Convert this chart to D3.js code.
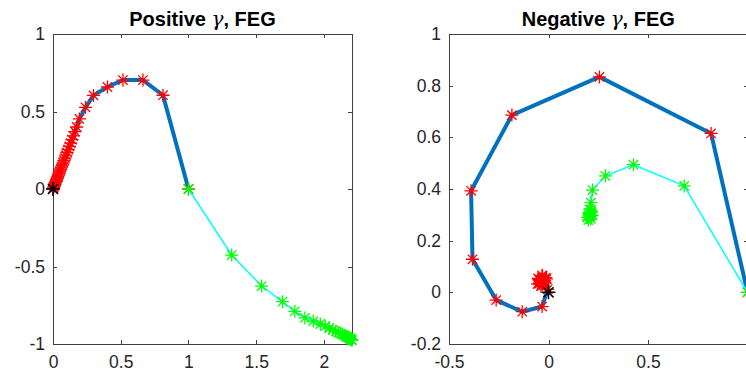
<!DOCTYPE html>
<html>
<head>
<meta charset="utf-8">
<script src="https://cdn.jsdelivr.net/npm/d3@7"></script>
<style>
  html, body { margin: 0; padding: 0; background: #fff; }
  svg { display: block; }
</style>
</head>
<body>
<svg id="chart" width="746" height="375"></svg>
<script>
// ---------- DATA ----------
// Left panel: Positive gamma
const posTitle = "Positive";
const posRedX = [1, 0.812, 0.664, 0.516, 0.402, 0.299, 0.24, 0.195, 0.175, 0.162, 0.150, 0.140, 0.130, 0.121, 0.112, 0.104, 0.096, 0.089, 0.082, 0.075, 0.069, 0.063, 0.057, 0.051, 0.046, 0.041, 0.036, 0.031, 0.026, 0.022, 0.018, 0.014, 0.010, 0.006, 0.003, 0.001];
const posRedY = [0, 0.605, 0.703, 0.703, 0.658, 0.604, 0.527, 0.452, 0.40, 0.37, 0.343, 0.318, 0.296, 0.275, 0.255, 0.236, 0.218, 0.201, 0.185, 0.169, 0.155, 0.141, 0.128, 0.115, 0.103, 0.091, 0.080, 0.069, 0.058, 0.048, 0.039, 0.030, 0.021, 0.013, 0.006, 0.002];
const posGreenX = [1, 1.319, 1.54, 1.694, 1.785, 1.859, 1.921, 1.973, 2.01, 2.04, 2.065, 2.087, 2.106, 2.123, 2.138, 2.151, 2.162, 2.172, 2.181, 2.189, 2.195, 2.200, 2.204, 2.207];
const posGreenY = [0, -0.426, -0.626, -0.727, -0.789, -0.832, -0.852, -0.871, -0.885, -0.898, -0.909, -0.918, -0.926, -0.933, -0.939, -0.945, -0.950, -0.955, -0.959, -0.963, -0.967, -0.970, -0.973, -0.976];
const posXTicks = [0, 0.5, 1, 1.5, 2];
const posXTickLabels = ["0", "0.5", "1", "1.5", "2"];
const posYTicks = [-1, -0.5, 0, 0.5, 1];
const posYTickLabels = ["-1", "-0.5", "0", "0.5", "1"];
const posXDomain = [0, 2.207];
const posYDomain = [-1, 1];

// Right panel: Negative gamma
const negTitle = "Negative";
const negRedX = [1, 0.817, 0.256, -0.184, -0.389, -0.382, -0.263, -0.132, -0.032, -0.004, -0.010, -0.032, -0.052, -0.055, -0.038, -0.016, -0.014, -0.030, -0.048, -0.046, -0.030, -0.020, -0.033, -0.042, -0.033, -0.026, -0.033];
const negRedY = [0, 0.615, 0.834, 0.686, 0.393, 0.128, -0.030, -0.075, -0.055, 0.012, 0.052, 0.066, 0.054, 0.032, 0.024, 0.036, 0.057, 0.063, 0.049, 0.034, 0.031, 0.046, 0.055, 0.045, 0.037, 0.043, 0.047];
const negGreenX = [1, 0.682, 0.427, 0.286, 0.221, 0.213, 0.207, 0.214, 0.203, 0.196, 0.200, 0.212, 0.220, 0.216, 0.206, 0.203, 0.210, 0.213, 0.208];
const negGreenY = [0, 0.412, 0.494, 0.451, 0.396, 0.347, 0.322, 0.318, 0.305, 0.290, 0.280, 0.284, 0.298, 0.310, 0.308, 0.296, 0.292, 0.300, 0.302];
const negXTicks = [-0.5, 0, 0.5, 1];
const negXTickLabels = ["-0.5", "0", "0.5", ""];   // the "1" label lies outside the visible picture
const negYTicks = [-0.2, 0, 0.2, 0.4, 0.6, 0.8, 1];
const negYTickLabels = ["-0.2", "0", "0.2", "0.4", "0.6", "0.8", "1"];
const negXDomain = [-0.5, 1];
const negYDomain = [-0.2, 1];

// ---------- DRAW ----------
const svg = d3.select("#chart");
const axisColor = "#404040";
const textColor = "#262626";
const font = "'Liberation Sans', Arial, Helvetica, sans-serif";

function asterisk(r) {
  const d = r * 0.72;
  return `M${-r},0L${r},0M0,${-r}L0,${r}M${-d},${-d}L${d},${d}M${-d},${d}L${d},${-d}`;
}

function panel(cfg) {
  const g = svg.append("g");
  const x = d3.scaleLinear().domain(cfg.xDomain).range([cfg.left, cfg.right]);
  const y = d3.scaleLinear().domain(cfg.yDomain).range([cfg.bottom, cfg.top]);
  const tickLen = 4;

  g.append("rect")
    .attr("x", cfg.left).attr("y", cfg.top)
    .attr("width", cfg.right - cfg.left).attr("height", cfg.bottom - cfg.top)
    .attr("fill", "none").attr("stroke", axisColor).attr("stroke-width", 1)
    .attr("shape-rendering", "crispEdges");

  const xLab = (d, i) => cfg.xTickLabels[i];
  const yLab = (d, i) => cfg.yTickLabels[i];
  const bottomAxis = d3.axisBottom(x).tickValues(cfg.xTicks).tickSize(-tickLen).tickPadding(8).tickFormat(xLab);
  const leftAxis = d3.axisLeft(y).tickValues(cfg.yTicks).tickSize(-tickLen).tickPadding(8).tickFormat(yLab);
  const topAxis = d3.axisTop(x).tickValues(cfg.xTicks).tickSize(-tickLen).tickFormat("");
  const rightAxis = d3.axisRight(y).tickValues(cfg.yTicks).tickSize(-tickLen).tickFormat("");

  const styleAxis = sel => {
    sel.select(".domain").remove();
    sel.selectAll(".tick line").attr("stroke", axisColor).attr("stroke-width", 1).attr("shape-rendering", "crispEdges");
    sel.selectAll(".tick text").attr("fill", textColor).style("font-family", font).style("font-size", "17.5px");
  };
  g.append("g").attr("transform", `translate(0,${cfg.bottom})`).call(bottomAxis).call(styleAxis)
    .selectAll(".tick text").attr("dy", "0.9em");
  g.append("g").attr("transform", `translate(${cfg.left},0)`).call(leftAxis).call(styleAxis);
  g.append("g").attr("transform", `translate(0,${cfg.top})`).call(topAxis).call(styleAxis);
  g.append("g").attr("transform", `translate(${cfg.right},0)`).call(rightAxis).call(styleAxis);

  const t = g.append("text")
    .attr("x", (cfg.left + cfg.right) / 2).attr("y", cfg.top - 8)
    .attr("text-anchor", "middle")
    .attr("fill", "#000")
    .style("font-family", font).style("font-size", "20px").style("font-weight", "bold");
  t.append("tspan").text(cfg.title + " ");
  t.append("tspan").text("γ").style("font-style", "italic").style("font-weight", "normal")
    .style("font-family", "'DejaVu Serif', 'Liberation Serif', serif");
  t.append("tspan").text(", FEG");

  const line = d3.line().x(d => x(d[0])).y(d => y(d[1]));
  const red = cfg.redX.map((v, i) => [v, cfg.redY[i]]);
  const green = cfg.greenX.map((v, i) => [v, cfg.greenY[i]]);

  g.append("path").datum(red).attr("d", line)
    .attr("fill", "none").attr("stroke", "#0072BD").attr("stroke-width", 4).attr("stroke-linejoin", "round");
  g.selectAll(".redm").data(red).enter().append("path")
    .attr("transform", d => `translate(${x(d[0])},${y(d[1])})`)
    .attr("d", asterisk(6.5)).attr("stroke", "#FF0000").attr("stroke-width", 1.3).attr("fill", "none");

  g.append("path").datum(green).attr("d", line)
    .attr("fill", "none").attr("stroke", "#00FFFF").attr("stroke-width", 1.5);
  g.selectAll(".greenm").data(green).enter().append("path")
    .attr("transform", d => `translate(${x(d[0])},${y(d[1])})`)
    .attr("d", asterisk(6.5)).attr("stroke", "#00FF00").attr("stroke-width", 1.3).attr("fill", "none");

  g.append("path")
    .attr("transform", `translate(${x(0)},${y(0)})`)
    .attr("d", asterisk(7)).attr("stroke", "#000").attr("stroke-width", 1.5).attr("fill", "none");
}

panel({
  title: posTitle, left: 53, right: 352, top: 34, bottom: 344,
  xDomain: posXDomain, yDomain: posYDomain, xTicks: posXTicks, yTicks: posYTicks,
  xTickLabels: posXTickLabels, yTickLabels: posYTickLabels,
  redX: posRedX, redY: posRedY, greenX: posGreenX, greenY: posGreenY
});
panel({
  title: negTitle, left: 449, right: 747.5, top: 34, bottom: 344,
  xDomain: negXDomain, yDomain: negYDomain, xTicks: negXTicks, yTicks: negYTicks,
  xTickLabels: negXTickLabels, yTickLabels: negYTickLabels,
  redX: negRedX, redY: negRedY, greenX: negGreenX, greenY: negGreenY
});
</script>
</body>
</html>
